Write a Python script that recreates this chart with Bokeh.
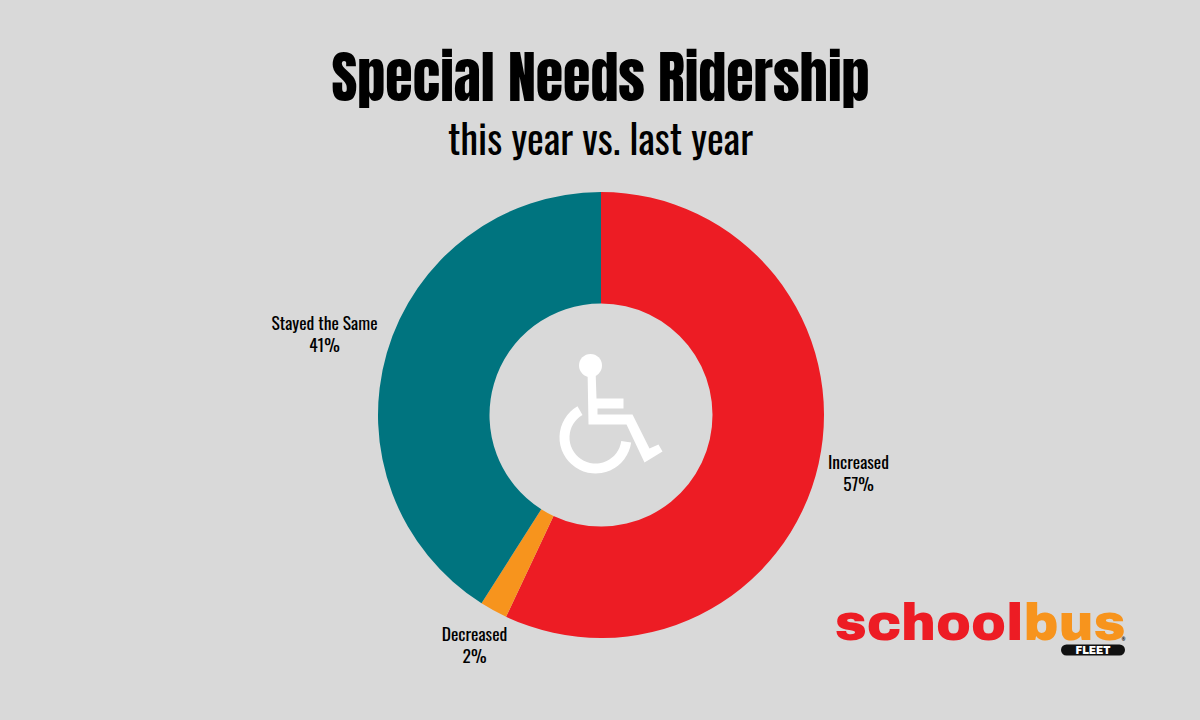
import math
from bokeh.plotting import figure
from bokeh.embed import file_html
from bokeh.resources import INLINE
from bokeh.core.properties import value

# ---- data ----
categories = ["Increased", "Decreased", "Stayed the Same"]
percents = [57, 2, 41]
colors = ["#ED1C24", "#F7941D", "#00747F"]
title = "Special Needs Ridership"
subtitle = "this year vs. last year"

BG = "#D9D9D9"
W, H = 1184, 704
TITLE_FONT = value("Anton, 'Liberation Sans', sans-serif")
TEXT_FONT = value("'Oswald Light', Oswald, 'Liberation Sans', sans-serif")
LOGO_FONT = value("'Archivo Black', 'DejaVu Sans', sans-serif")
# The figure sits at the page's top-left corner; one data unit is one pixel.
p = figure(width=W, height=H, x_range=(0, W), y_range=(720 - H, 720),
           output_backend="svg", toolbar_location=None,
           x_axis_type=None, y_axis_type=None, min_border=0)
p.grid.visible = False
p.outline_line_color = None
p.background_fill_color = BG
p.border_fill_color = BG


def Y(y):
    return 720 - y


# donut
cx, cy, r_out, r_in = 600.5, 414.5, 223, 111.5
angle = math.pi / 2
total = sum(percents)
starts, ends = [], []
for v in percents:
    starts.append(angle)
    angle -= 2 * math.pi * v / total
    ends.append(angle)
p.annular_wedge(x=cx, y=Y(cy), inner_radius=r_in, outer_radius=r_out,
                start_angle=starts, end_angle=ends, direction="clock",
                fill_color=colors, line_color=None)

# titles
p.text(x=[600], y=[Y(76.5)], text=[title], text_font=TITLE_FONT,
       text_font_size="56px", text_color="#000000",
       text_align="center", text_baseline="alphabetic")
p.text(x=[600], y=[Y(136)], text=[subtitle], text_font=TEXT_FONT,
       text_font_size="40px", text_color="#000000",
       text_align="center", text_baseline="alphabetic")

# slice labels
label_pos = [(858, 460), (474, 632), (324, 321)]
for (lx, ly), c, v in zip(label_pos, categories, percents):
    p.text(x=[lx], y=[Y(ly)], text=[c], text_font=TEXT_FONT,
           text_font_size="17.5px", text_color="#000000",
           text_align="center", text_baseline="alphabetic")
    p.text(x=[lx], y=[Y(ly + 22)], text=[f"{v}%"], text_font=TEXT_FONT,
           text_font_size="17.5px", text_color="#000000",
           text_align="center", text_baseline="alphabetic")

# wheelchair icon
WHITE = "#FFFFFF"
p.annular_wedge(x=595, y=Y(437), inner_radius=26, outer_radius=36,
                start_angle=math.radians(120), end_angle=math.radians(-8),
                direction="anticlock", fill_color=WHITE, line_color=None)
p.scatter(x=[590], y=[Y(365)], size=23, marker="circle", fill_color=WHITE, line_color=None)
body_x = [587, 595, 596, 623, 623, 597, 597, 632, 649, 658, 662, 644, 626, 588]
body_y = [368, 368, 398, 398, 408, 408, 414, 414, 448, 444, 451, 462, 424, 424]
p.patch(x=body_x, y=[Y(v) for v in body_y], fill_color=WHITE, line_color=None)

# logo
p.text(x=[1023], y=[Y(622)], text=["school"], text_font=LOGO_FONT,
       text_font_size="52.5px", text_color="#ED1C24",
       text_align="right", text_baseline="alphabetic")
p.text(x=[1023], y=[Y(622)], text=["bus"], text_font=LOGO_FONT,
       text_font_size="52.5px", text_color="#F7941D",
       text_align="left", text_baseline="alphabetic")
p.line(x=[1066, 1119], y=[Y(649.5), Y(649.5)], line_width=11, line_cap="round", line_color="#111111")
p.text(x=[1092.5], y=[Y(650)], text=["FLEET"], text_font=LOGO_FONT,
       text_font_size="10px", text_color=WHITE,
       text_align="center", text_baseline="alphabetic")
p.text(x=[1123], y=[Y(639)], text=["®"], text_font=LOGO_FONT,
       text_font_size="5px", text_color="#333333",
       text_align="center", text_baseline="alphabetic")

html = file_html(p, INLINE)
html = html.replace("<head>", f"<head><style>html,body{{background:{BG};}}</style>", 1)
open("out.html", "w").write(html)
